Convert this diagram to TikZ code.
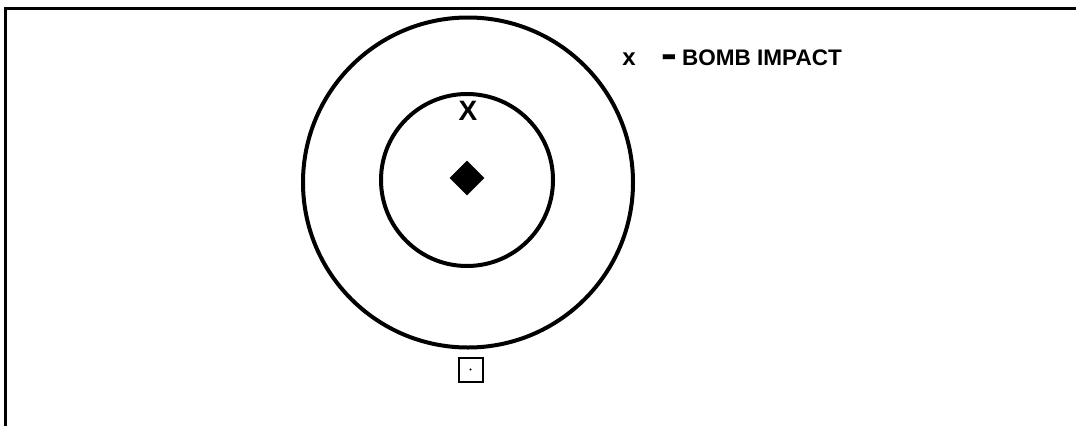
\documentclass[tikz,border=0pt]{standalone}
\usepackage{fontspec}
\setmainfont{Liberation Sans}
\usetikzlibrary{shapes.geometric}
\tikzset{
  ring/.style={circle, draw, line width=4pt, inner sep=0pt},
  legend/.style={font=\fontsize{22.5}{26}\selectfont\bfseries, inner sep=0pt},
}
\begin{document}
\begin{tikzpicture}[x=1pt,y=-1pt]
\useasboundingbox (0,0) rectangle (1076,426);
\coordinate (fbl) at (5.5,426);
\coordinate (ftl) at (5.5,8);
\coordinate (ftr) at (1076,8);
\draw[line width=3pt] (fbl) -- (ftl) -- (ftr);
\node[ring, minimum size=330pt] (outer) at (468,182.5) {};
\node[ring, minimum size=172pt] (inner) at (467,180) {};
\node[diamond, fill=black, inner sep=0pt, minimum size=35pt] (target) at (467,178) {};
\node[font=\fontsize{28}{32}\selectfont\bfseries, inner sep=0pt] (impact) at (468,111) {X};
\node[draw, line width=2pt, minimum size=24pt, inner sep=0pt] (box) at (470.5,369.5) {};
\node[circle, fill=black, inner sep=0pt, minimum size=2.2pt] (dot) at (box.center) {};
\node[legend, font=\fontsize{24}{26}\selectfont\bfseries, anchor=base] (lx) at (629,65) {x};
\node[legend, anchor=base west] (ldash) at (662,65) {\scalebox{1.1}[2.2]{\raisebox{-2.3pt}{–}}};
\node[legend, anchor=base west] (ltext) at (682,65) {BOMB IMPACT};
\end{tikzpicture}
\end{document}
